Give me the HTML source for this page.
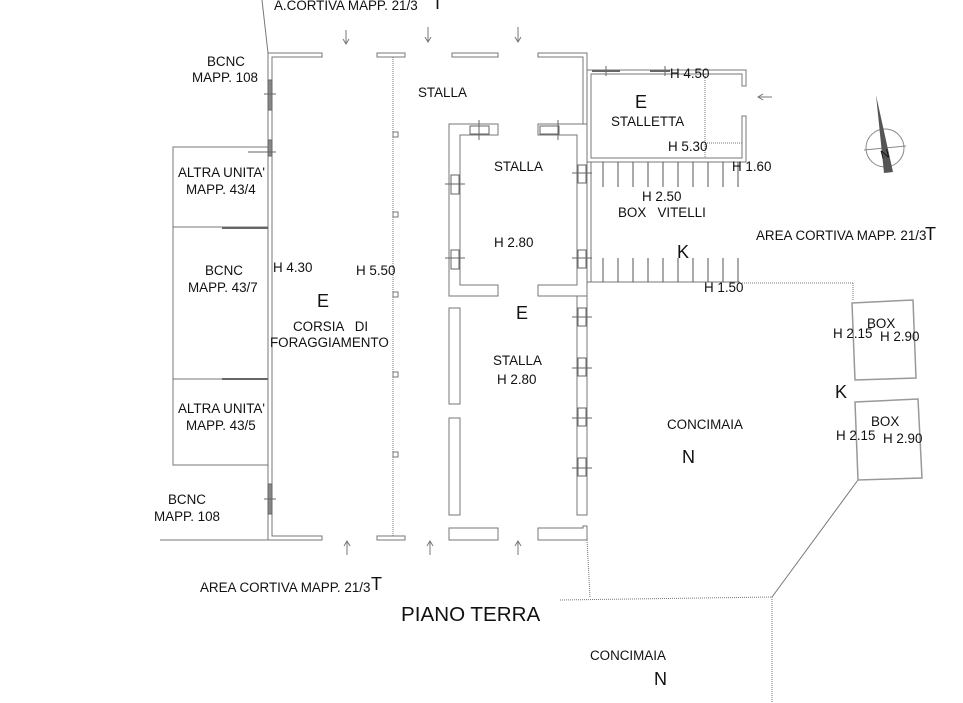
<!DOCTYPE html>
<html><head><style>
html,body{margin:0;padding:0;background:#fff;}
svg{display:block;}
text{font-family:"Liberation Sans",sans-serif;fill:#111;white-space:pre;}
</style></head><body>
<svg width="963" height="703" viewBox="0 0 963 703" xmlns="http://www.w3.org/2000/svg" xml:space="preserve">
<g fill="none" stroke="#777" stroke-width="1">
<line x1="262" y1="0" x2="268" y2="53"/>
<path d="M268 53 H322 V57 H272 V536 H322 V540 H268 Z"/>
<rect x="377" y="53" width="28" height="4"/>
<rect x="452" y="53" width="46" height="4"/>
<path d="M538 53 H587 V124 H583 V57 H538 Z"/>
<rect x="377" y="536" width="28" height="4"/>
<line x1="393" y1="57" x2="393" y2="536" stroke-dasharray="1,1"/>
<rect x="393" y="132" width="5" height="5"/><rect x="393" y="212" width="5" height="5"/>
<rect x="393" y="292" width="5" height="5"/><rect x="393" y="372" width="5" height="5"/>
<rect x="393" y="452" width="5" height="5"/>
<path d="M449 124 H498 V135 H460 V285 H498 V296 H449 Z"/>
<path d="M538 124 H587 V296 H538 V285 H577 V135 H538 Z"/>
<rect x="449" y="308" width="11" height="96"/>
<rect x="449" y="418" width="11" height="97"/>
<rect x="577" y="296" width="10" height="219"/>
<path d="M449 528 H498 V540 H449 Z"/>
<path d="M538 528 H583 V526 H587 V540 H538 Z"/>
<path d="M268 147 H173 V465 H268"/>
<line x1="173" y1="227" x2="268" y2="227"/>
<line x1="173" y1="379" x2="268" y2="379"/>
<line x1="160" y1="540" x2="268" y2="540"/>
<path d="M587 70 H746 V86 H742 V74 H591 V158 H742 V116 H746 V162 H587"/>
<line x1="705" y1="74" x2="705" y2="158" stroke-dasharray="1,1"/>
<line x1="705" y1="143" x2="742" y2="143" stroke-dasharray="1,1"/>
<line x1="587" y1="162" x2="740" y2="162"/>
<line x1="587" y1="282" x2="740" y2="282"/>
<line x1="587" y1="162" x2="587" y2="282"/>
<line x1="591" y1="162" x2="591" y2="282"/>
<line x1="740" y1="283" x2="853" y2="283" stroke-dasharray="1,1"/>
<line x1="853" y1="283" x2="853" y2="300" stroke-dasharray="1,1"/>
<line x1="587" y1="540" x2="590" y2="597" stroke-dasharray="1,1"/>
<line x1="560" y1="600" x2="772" y2="597" stroke-dasharray="1,1"/>
<line x1="772" y1="597" x2="858" y2="480"/>
<line x1="772" y1="597" x2="772" y2="703" stroke-dasharray="1,1"/>
<g stroke="#999" stroke-width="1.5">
<path d="M852 303 L913 300 L916 378 L855 380 Z"/>
<path d="M855 402 L918 399 L922 478 L858 480 Z"/>
</g>
</g>
<g stroke="#555" stroke-width="1">
<path d="M603 162V187M618 162V187M633 162V187M648 162V187M663 162V187M678 162V187M693 162V187M708 162V187M723 162V187M738 162V187"/>
<path d="M603 258V282M618 258V282M633 258V282M648 258V282M663 258V282M678 258V282M693 258V282M708 258V282M723 258V282M738 258V282"/>
</g>
<g stroke="#666" stroke-width="1" fill="none">
<rect x="268" y="80" width="4" height="30" fill="#888"/><line x1="264" y1="94" x2="276" y2="94"/>
<rect x="268" y="140" width="4" height="16" fill="#888"/><line x1="248" y1="152" x2="276" y2="152"/>
<rect x="268" y="484" width="4" height="30" fill="#888"/><line x1="264" y1="499" x2="276" y2="499"/>
<line x1="222" y1="228" x2="268" y2="228" stroke-width="2"/>
<line x1="222" y1="379" x2="268" y2="379" stroke-width="2"/>
<rect x="470" y="126" width="19" height="8"/><line x1="479" y1="120" x2="479" y2="140"/>
<rect x="540" y="126" width="19" height="8"/><line x1="558" y1="120" x2="558" y2="140"/>
<rect x="451" y="175" width="8" height="19"/><line x1="445" y1="184" x2="465" y2="184"/>
<rect x="451" y="250" width="8" height="19"/><line x1="445" y1="258" x2="465" y2="258"/>
<rect x="578" y="165" width="8" height="18"/><line x1="572" y1="173" x2="592" y2="173"/>
<rect x="578" y="250" width="8" height="18"/><line x1="572" y1="258" x2="592" y2="258"/>
<rect x="578" y="308" width="8" height="18"/><line x1="572" y1="317" x2="592" y2="317"/>
<rect x="578" y="358" width="8" height="18"/><line x1="572" y1="368" x2="592" y2="368"/>
<rect x="578" y="408" width="8" height="18"/><line x1="572" y1="418" x2="592" y2="418"/>
<rect x="578" y="458" width="8" height="18"/><line x1="572" y1="468" x2="592" y2="468"/>
<line x1="592" y1="71" x2="620" y2="71" stroke-width="2"/><line x1="650" y1="71" x2="670" y2="71" stroke-width="2"/>
<line x1="606" y1="66" x2="606" y2="76"/><line x1="665" y1="66" x2="665" y2="76"/>
</g>
<g stroke="#777" stroke-width="1" fill="none">
<path d="M346 30V44M343 39L346 44L349 39"/>
<path d="M428 27V42M425 37L428 42L431 37"/>
<path d="M518 27V42M515 37L518 42L521 37"/>
<path d="M347 555V541M344 546L347 541L350 546"/>
<path d="M430 555V541M427 546L430 541L433 546"/>
<path d="M518 555V541M515 546L518 541L521 546"/>
<path d="M758 97H772M763 94L758 97L763 100"/>
</g>
<g>
<circle cx="885" cy="148" r="19" fill="none" stroke="#888"/>
<line x1="864" y1="150" x2="906" y2="146" stroke="#888"/>
<polygon points="876,95 893,172 884,173" fill="#555"/>
<text x="880" y="158" font-size="12" fill="#fff" transform="rotate(-15 885 152)">N</text>
</g>
<g font-size="13.4">
<text x="274" y="10">A.CORTIVA MAPP. 21/3</text>
<text x="207" y="66">BCNC</text><text x="192" y="82">MAPP. 108</text>
<text x="178" y="177">ALTRA UNITA'</text><text x="186" y="194">MAPP. 43/4</text>
<text x="205" y="275">BCNC</text><text x="188" y="292">MAPP. 43/7</text>
<text x="178" y="413">ALTRA UNITA'</text><text x="186" y="430">MAPP. 43/5</text>
<text x="168" y="504">BCNC</text><text x="154" y="521">MAPP. 108</text>
<text x="273" y="272">H 4.30</text><text x="356" y="275">H 5.50</text>
<text x="293" y="331">CORSIA   DI</text><text x="270" y="347">FORAGGIAMENTO</text>
<text x="418" y="97">STALLA</text>
<text x="494" y="171">STALLA</text>
<text x="494" y="247">H 2.80</text>
<text x="493" y="365">STALLA</text><text x="497" y="384">H 2.80</text>
<text x="670" y="78">H 4.50</text>
<text x="611" y="126">STALLETTA</text>
<text x="668" y="151">H 5.30</text>
<text x="732" y="171">H 1.60</text>
<text x="642" y="201">H 2.50</text>
<text x="618" y="217">BOX   VITELLI</text>
<text x="756" y="240">AREA CORTIVA MAPP. 21/3</text>
<text x="704" y="292">H 1.50</text>
<text x="867" y="328">BOX</text>
<text x="833" y="338">H 2.15</text><text x="880" y="341">H 2.90</text>
<text x="871" y="426">BOX</text>
<text x="836" y="440">H 2.15</text><text x="883" y="443">H 2.90</text>
<text x="667" y="429">CONCIMAIA</text>
<text x="200" y="592">AREA CORTIVA MAPP. 21/3</text>
<text x="590" y="660">CONCIMAIA</text>
</g>
<g font-size="18">
<text x="432" y="9">T</text>
<text x="925" y="240">T</text>
<text x="371" y="590">T</text>
<text x="635" y="108">E</text>
<text x="677" y="258">K</text>
<text x="317" y="307">E</text>
<text x="516" y="319">E</text>
<text x="835" y="398">K</text>
<text x="682" y="463">N</text>
<text x="654" y="685">N</text>
<text x="401" y="621" font-size="20.6">PIANO TERRA</text>
</g>
</svg>
</body></html>
